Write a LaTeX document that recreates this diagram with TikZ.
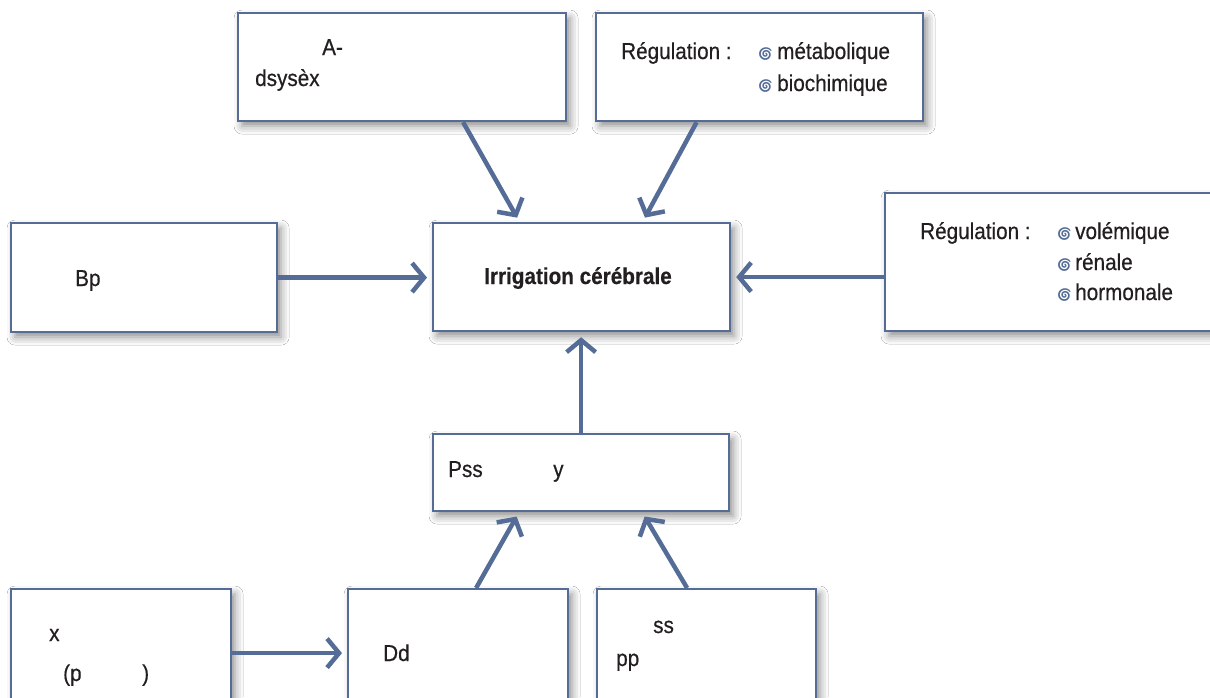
\documentclass[tikz,border=0pt]{standalone}
\usepackage{fontspec}
\setmainfont{Liberation Sans}[FakeStretch=0.9,FakeBold=0.5,BoldFeatures={FakeBold=0.5}]
\newfontfamily\emo{Noto Emoji}
\usetikzlibrary{arrows.meta,shadows.blur,calc}
\definecolor{steel}{RGB}{84,108,150}
\definecolor{ink}{RGB}{35,31,32}
\newcommand{\bul}{{\emo\fontsize{13}{13}\selectfont\color{steel}^^^^^1f300}}
\begin{document}
\begin{tikzpicture}[x=1pt,y=-1pt,
 box/.style={draw=steel, line width=2.2pt, fill=white, anchor=north west, inner sep=0pt,
   blur shadow={shadow xshift=4pt, shadow yshift=-5pt, shadow blur radius=8pt, shadow opacity=45}},
 lbl/.style={anchor=base west, inner sep=0pt, text=ink, font=\fontsize{23}{27}\selectfont},
 conn/.style={draw=steel, line width=4.5pt, -{Straight Barb[length=12pt,width=29pt]}, shorten >=5pt}]
\fill[white] (0,0) rectangle (1210,697);
\useasboundingbox (0,0) rectangle (1210,697);
% boxes
\node[box, minimum width=328pt, minimum height=108pt] (ta) at (237,12) {};
\node[box, minimum width=327pt, minimum height=108pt] (tr) at (595,12) {};
\node[box, minimum width=340pt, minimum height=138pt] (rr) at (884,192) {};
\node[box, minimum width=266pt, minimum height=109pt] (bp) at (10,222) {};
\node[box, minimum width=297pt, minimum height=108pt] (ic) at (432,222) {};
\node[box, minimum width=296pt, minimum height=77pt] (ps) at (432,433) {};
\node[box, minimum width=220pt, minimum height=128pt] (xb) at (10,588) {};
\node[box, minimum width=220pt, minimum height=128pt] (dd) at (347,588) {};
\node[box, minimum width=219pt, minimum height=128pt] (pp) at (596,588) {};
% connectors
\draw[conn] ([xshift=61pt]ta.south) -- ([xshift=-62pt]ic.north);
\draw[conn] ([xshift=-63pt]tr.south) -- ([xshift=61pt]ic.north);
\draw[conn] (bp.east) -- (bp.east -| ic.west);
\draw[conn] (rr.west |- ic.east) -- (ic.east);
\draw[conn] (ps.north) -- (ps.north |- ic.south);
\draw[conn] ([xshift=18pt]dd.north) -- ([xshift=-62pt]ps.south);
\draw[conn] ([xshift=-19.5pt]pp.north) -- ([xshift=61pt]ps.south);
\draw[conn] (xb.east) -- (dd.west);
% texts
\node[lbl] (t1) at (322,55) {A-};
\node[lbl] (t2) at (255,86) {dsysèx};
\node[lbl] (t3) at (621,59) {Régulation :};
\node[lbl] (b1) at (757,58) {\bul};
\node[lbl] (t4) at (777,59) {métabolique};
\node[lbl] (b2) at (757,90) {\bul};
\node[lbl] (t5) at (777,91) {biochimique};
\node[lbl] (t6) at (920,239) {Régulation :};
\node[lbl] (b3) at (1056,238) {\bul};
\node[lbl] (t7) at (1075,239) {volémique};
\node[lbl] (b4) at (1056,269) {\bul};
\node[lbl] (t8) at (1075,270) {rénale};
\node[lbl] (b5) at (1056,299) {\bul};
\node[lbl] (t9) at (1075,300) {hormonale};
\node[lbl] (t10) at (75,286) {Bp};
\node[lbl, anchor=base, font=\fontsize{23}{27}\selectfont\bfseries] (t11) at (578,284) {Irrigation cérébrale};
\node[lbl] (t12) at (448,477) {Pss};
\node[lbl] (t13) at (553,477) {y};
\node[lbl] (t14) at (49,641) {x};
\node[lbl] (t15) at (63,681) {(p};
\node[lbl] (t16) at (142,681) {)};
\node[lbl] (t17) at (383,661) {Dd};
\node[lbl] (t18) at (653,633) {ss};
\node[lbl] (t19) at (616,666) {pp};
\end{tikzpicture}
\end{document}
